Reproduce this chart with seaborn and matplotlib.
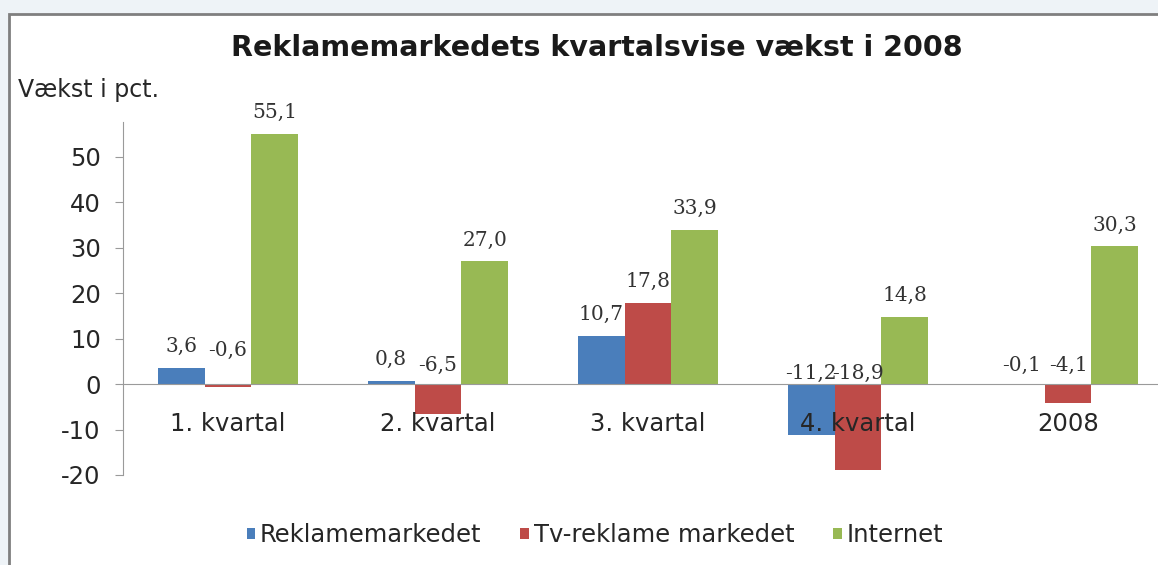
import numpy as np
import pandas as pd
import seaborn as sns
import matplotlib.pyplot as plt
from matplotlib.patches import Rectangle
from matplotlib.ticker import MultipleLocator

# data
categories = ["1. kvartal", "2. kvartal", "3. kvartal", "4. kvartal", "2008"]
series = ["Reklamemarkedet", "Tv-reklame markedet", "Internet"]
reklame = [3.6, 0.8, 10.7, -11.2, -0.1]
tv_reklame = [-0.6, -6.5, 17.8, -18.9, -4.1]
internet = [55.1, 27.0, 33.9, 14.8, 30.3]
colors = ["#4A7EBB", "#BE4B48", "#98B954"]

# excel nudged a few negative labels around (pixels, up is positive)
label_nudge = {("Tv-reklame markedet", "1. kvartal"): 15,
               ("Reklamemarkedet", "4. kvartal"): -8,
               ("Tv-reklame markedet", "4. kvartal"): -8}

rows = []
for name, vals in zip(series, [reklame, tv_reklame, internet]):
    for cat, v in zip(categories, vals):
        rows.append([cat, name, v])
df = pd.DataFrame(rows, columns=["kvartal", "serie", "value"])

sns.set_style("white")
plt.rcParams["font.family"] = ["DejaVu Sans"]

fig = plt.figure(figsize=(11.58, 5.65), dpi=100, facecolor="#EEF3F7")

# white chart frame (cut off on the right and bottom like the screenshot)
frame = Rectangle((9 / 1158, -0.1), 1.2, 1.1 - 14 / 565, transform=fig.transFigure,
                  facecolor="white", edgecolor="#7F7F7F", linewidth=2, zorder=-10)
fig.patches.append(frame)

ax = fig.add_axes([123 / 1158, 1 - 475 / 565, 1050 / 1158, 353 / 565])
ax.set_zorder(1)
ax.set_facecolor("none")

sns.barplot(data=df, x="kvartal", y="value", hue="serie", palette=colors,
            width=0.67, gap=0, saturation=1, errorbar=None, ax=ax,
            linewidth=0, zorder=1)
ax.set_axisbelow(False)  # category labels are drawn over the bars

ax.set_ylim(-20, 57.7)
ax.set_xlim(-0.5, 4.5)
ax.yaxis.set_major_locator(MultipleLocator(10))

# value labels (Excel style, negatives sit above the zero line)
px = 72 / 100
for cont, name, vals in zip(ax.containers, series, [reklame, tv_reklame, internet]):
    for bar, cat, v in zip(cont, categories, vals):
        xc = bar.get_x() + bar.get_width() / 2
        off = 12 if v >= 0 else 9
        off += label_nudge.get((name, cat), 0)
        ax.annotate(f"{v:.1f}".replace(".", ","), (xc, max(v, 0)), xytext=(0, off * px),
                    textcoords="offset points", ha="center", va="bottom",
                    fontsize=14.5, family="DejaVu Serif", color="#333333")

for s in ["top", "right"]:
    ax.spines[s].set_visible(False)
ax.spines["left"].set_color("#9A9A9A")
ax.spines["bottom"].set_position(("data", 0))
ax.spines["bottom"].set_color("#9A9A9A")

ax.set_xticks(range(len(categories)))
ax.set_xticklabels(categories)
ax.set_xticks(np.arange(0.5, len(categories), 1), minor=True)
ax.tick_params(axis="x", which="major", length=0, pad=20, labelsize=17.5, labelcolor="#262626")
ax.tick_params(axis="x", which="minor", length=6, direction="out", color="#9A9A9A")
ax.tick_params(axis="y", length=6, direction="out", color="#9A9A9A", labelsize=17.5,
               labelcolor="#262626", pad=10, left=True)
ax.set_yticklabels([f"{int(t)}" for t in ax.get_yticks()])
ax.set_xlabel("")
ax.set_ylabel("")

fig.text(597 / 1158, 1 - 48 / 565, "Reklamemarkedets kvartalsvise vækst i 2008",
         ha="center", va="center", fontsize=20.5, fontweight="bold", color="#1A1A1A")
fig.text(18 / 1158, 1 - 90 / 565, "Vækst i pct.", ha="left", va="center",
         fontsize=17, color="#262626")

handles, labels = ax.get_legend_handles_labels()
ax.legend_.remove()
fig.legend(handles, labels, loc="center", bbox_to_anchor=(595 / 1158, 1 - 535 / 565),
           ncol=3, frameon=False, fontsize=17.5, handlelength=0.35, handleheight=0.35,
           handletextpad=0.2, columnspacing=1.6, labelcolor="#262626")

fig.savefig("out.png", dpi=100, facecolor=fig.get_facecolor())
